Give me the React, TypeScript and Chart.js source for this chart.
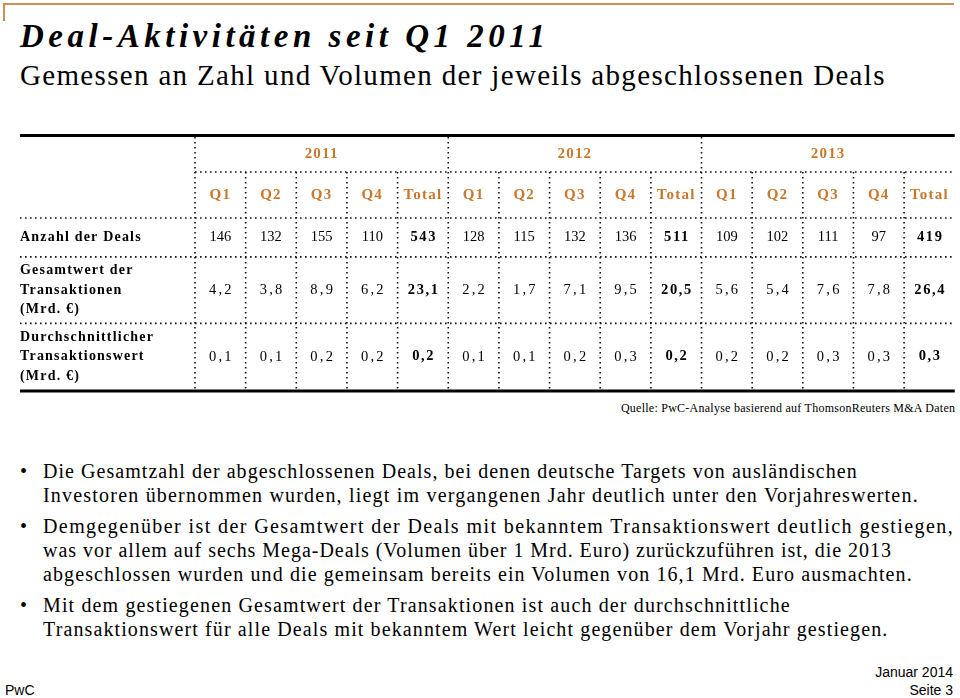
import React, { useEffect, useRef } from 'react';
import { Chart, registerables } from 'chart.js';

Chart.register(...registerables);

// ---------- data ----------
const YEARS = ['2011', '2012', '2013'];
const COLUMN_LABELS = ['Q1', 'Q2', 'Q3', 'Q4', 'Total', 'Q1', 'Q2', 'Q3', 'Q4', 'Total', 'Q1', 'Q2', 'Q3', 'Q4', 'Total'];
const ROW_LABELS = [
  ['Anzahl der Deals'],
  ['Gesamtwert der', 'Transaktionen', '(Mrd. €)'],
  ['Durchschnittlicher', 'Transaktionswert', '(Mrd. €)'],
];
const DEALS_COUNT = [146, 132, 155, 110, 543, 128, 115, 132, 136, 511, 109, 102, 111, 97, 419];
const TOTAL_VALUE = [4.2, 3.8, 8.9, 6.2, 23.1, 2.2, 1.7, 7.1, 9.5, 20.5, 5.6, 5.4, 7.6, 7.8, 26.4];
const AVG_VALUE = [0.1, 0.1, 0.2, 0.2, 0.2, 0.1, 0.1, 0.2, 0.3, 0.2, 0.2, 0.2, 0.3, 0.3, 0.3];
const ROW_VALUES = [DEALS_COUNT, TOTAL_VALUE, AVG_VALUE];
const ROW_DECIMALS = [0, 1, 1];

const TITLE = 'Deal-Aktivitäten seit Q1 2011';
const SUBTITLE = 'Gemessen an Zahl und Volumen der jeweils abgeschlossenen Deals';
const SOURCE = 'Quelle: PwC-Analyse basierend auf ThomsonReuters M&A Daten';
const BULLETS = [
  [
    'Die Gesamtzahl der abgeschlossenen Deals, bei denen deutsche Targets von ausländischen',
    'Investoren übernommen wurden, liegt im vergangenen Jahr deutlich unter den Vorjahreswerten.',
  ],
  [
    'Demgegenüber ist der Gesamtwert der Deals mit bekanntem Transaktionswert deutlich gestiegen,',
    'was vor allem auf sechs Mega-Deals (Volumen über 1 Mrd. Euro) zurückzuführen ist, die 2013',
    'abgeschlossen wurden und die gemeinsam bereits ein Volumen von 16,1 Mrd. Euro ausmachten.',
  ],
  [
    'Mit dem gestiegenen Gesamtwert der Transaktionen ist auch der durchschnittliche',
    'Transaktionswert für alle Deals mit bekanntem Wert leicht gegenüber dem Vorjahr gestiegen.',
  ],
];
const FOOTER_LEFT = 'PwC';
const FOOTER_DATE = 'Januar 2014';
const FOOTER_PAGE = 'Seite 3';

// ---------- styles / layout ----------
const SERIF = '"Liberation Serif", "Times New Roman", serif';
const SANS = '"Liberation Sans", Arial, sans-serif';
const ORANGE = '#C8782C';
const TOP_RULE = '#CC9152';
const BULLET_WIDTHS = [[814, 875], [910, 848, 869], [747, 845]];

// row geometry derived from label line count
const ROW_UNITS = ROW_LABELS.map((l) => l.length + 1.8);
const ROW_BOUNDS: number[] = [0];
ROW_UNITS.forEach((u, i) => ROW_BOUNDS.push(ROW_BOUNDS[i] + u));
const ROW_CENTERS = ROW_UNITS.map((u, i) => ROW_BOUNDS[i] + u / 2);
const ROW_MAX = ROW_BOUNDS[ROW_BOUNDS.length - 1];

const fmt = (v: number, d: number) => v.toFixed(d).replace('.', ',');

let mctx: CanvasRenderingContext2D | null = null;
function measure(text: string, font: string) {
  if (!mctx) mctx = document.createElement('canvas').getContext('2d');
  mctx!.font = font;
  return mctx!.measureText(text).width;
}

type LineProps = {
  text: string; x: number; y: number; width?: number; size: number;
  weight?: string; italic?: boolean; family?: string; align?: 'left' | 'right'; color?: string;
};
function Line({ text, x, y, width, size, weight = 'normal', italic = false, family = SERIF, align = 'left', color = '#000' }: LineProps) {
  const font = `${italic ? 'italic' : 'normal'} ${weight} ${size}px ${family}`;
  const n = Array.from(text).length;
  const ls = width ? (width - measure(text, font)) / Math.max(1, n - 1) : 0;
  const css: React.CSSProperties = {
    position: 'absolute',
    top: y - size / 2,
    font,
    lineHeight: `${size}px`,
    letterSpacing: `${ls}px`,
    whiteSpace: 'pre',
    color,
    margin: 0,
  };
  if (align === 'left') css.left = x;
  else css.right = 960 - x - ls;
  return <div style={css}>{text}</div>;
}

// ---------- chart plugins ----------
const spacingPlugin = {
  id: 'spacing',
  beforeDraw(chart: any) { chart.ctx.letterSpacing = '1.2px'; },
  afterDraw(chart: any) { chart.ctx.letterSpacing = '0px'; },
};

const gridPlugin = {
  id: 'tableGrid',
  beforeDatasetsDraw(chart: any) {
    const { ctx, chartArea } = chart;
    const xs = chart.scales.x;
    const ys = chart.scales.y;
    const yr = chart.scales.year;
    const tableLeft = ys.left;
    ctx.save();
    ctx.strokeStyle = '#111';
    ctx.lineWidth = 1.6;
    ctx.setLineDash([1.6, 3.4]);
    const seg = (x1: number, y1: number, x2: number, y2: number) => {
      ctx.beginPath(); ctx.moveTo(x1, y1); ctx.lineTo(x2, y2); ctx.stroke();
    };
    const n = COLUMN_LABELS.length;
    for (let i = 0; i < n; i++) {
      const xb = i === 0 ? chartArea.left : (xs.getPixelForValue(i - 1) + xs.getPixelForValue(i)) / 2;
      const top = i % 5 === 0 ? yr.top : xs.top;
      seg(xb, top, xb, chartArea.bottom);
    }
    seg(chartArea.left, xs.top, chartArea.right, xs.top);
    seg(tableLeft, chartArea.top, chartArea.right, chartArea.top);
    for (let r = 1; r < ROW_BOUNDS.length - 1; r++) {
      const yb = ys.getPixelForValue(ROW_BOUNDS[r]);
      seg(tableLeft, yb, chartArea.right, yb);
    }
    ctx.setLineDash([]);
    ctx.strokeStyle = '#000';
    ctx.lineWidth = 3;
    seg(tableLeft, yr.top - 1.5, chartArea.right, yr.top - 1.5);
    seg(tableLeft, chartArea.bottom + 1, chartArea.right, chartArea.bottom + 1);
    ctx.restore();
  },
};

const cellPlugin = {
  id: 'cellText',
  afterDatasetsDraw(chart: any) {
    const ctx = chart.ctx;
    chart.data.datasets.forEach((ds: any, r: number) => {
      const meta = chart.getDatasetMeta(r);
      meta.data.forEach((el: any, i: number) => {
        const total = COLUMN_LABELS[i] === 'Total';
        const text = fmt(ds.data[i].v, ROW_DECIMALS[r]);
        const ls = total ? 1.6 : ROW_DECIMALS[r] ? 2.2 : 0;
        ctx.save();
        ctx.font = `${total ? 'bold ' : ''}14.5px ${SERIF}`;
        ctx.letterSpacing = `${ls}px`;
        ctx.textAlign = 'center';
        ctx.textBaseline = 'middle';
        ctx.fillStyle = '#000';
        ctx.fillText(text, el.x + ls / 2, el.y);
        ctx.restore();
      });
    });
  },
};

function TableChart() {
  const ref = useRef<HTMLCanvasElement>(null);
  useEffect(() => {
    const headerFont = { family: SERIF, size: 15, weight: 'bold' as const };
    const noGrid = { display: false, drawTicks: false };
    const chart = new Chart(ref.current!, {
      type: 'scatter',
      data: {
        labels: COLUMN_LABELS,
        datasets: ROW_VALUES.map((vals, r) => ({
          label: ROW_LABELS[r].join(' '),
          data: vals.map((v, i) => ({ x: i, y: ROW_CENTERS[r], v })),
          pointRadius: 0,
          pointHoverRadius: 0,
        })) as any,
      },
      options: {
        animation: false,
        responsive: false,
        devicePixelRatio: 1,
        events: [],
        layout: { padding: { left: 20, right: 5, top: 7, bottom: 10 } },
        plugins: { legend: { display: false }, tooltip: { enabled: false } },
        scales: {
          x: {
            type: 'category',
            labels: COLUMN_LABELS,
            position: 'top',
            offset: true,
            grid: noGrid,
            border: { display: false },
            ticks: { color: ORANGE, font: headerFont, padding: 14, autoSkip: false, maxRotation: 0 },
            afterFit: (s: any) => { s.height = 46; },
          },
          year: {
            type: 'category',
            labels: YEARS,
            position: 'top',
            display: true,
            offset: true,
            weight: 1,
            grid: noGrid,
            border: { display: false },
            ticks: { color: ORANGE, font: headerFont, padding: 9, autoSkip: false, maxRotation: 0 },
            afterFit: (s: any) => { s.height = 35; },
          },
          y: {
            type: 'linear',
            position: 'left',
            reverse: true,
            min: 0,
            max: ROW_MAX,
            bounds: 'data',
            grid: noGrid,
            border: { display: false },
            ticks: {
              crossAlign: 'far',
              color: '#000',
              padding: 0,
              autoSkip: false,
              font: { family: SERIF, size: 14, weight: 'bold', lineHeight: 1.4 },
              callback: (_v: any, i: number) => ROW_LABELS[i],
            },
            afterBuildTicks: (s: any) => { s.ticks = ROW_CENTERS.map((v) => ({ value: v })); },
            afterFit: (s: any) => { s.width = 175; },
          },
        } as any,
      },
      plugins: [spacingPlugin, gridPlugin, cellPlugin],
    });
    return () => chart.destroy();
  }, []);
  return (
    <canvas
      ref={ref}
      width={960}
      height={270}
      style={{ position: 'absolute', left: 0, top: 130, width: 960, height: 270 }}
    />
  );
}

export default function App() {
  const lineH = 24;
  const paraGap = 7;
  let y = 471;
  const bulletNodes: React.ReactNode[] = [];
  BULLETS.forEach((para, p) => {
    para.forEach((t, l) => {
      if (l === 0) bulletNodes.push(<Line key={`b${p}`} text="•" x={20} y={y} size={20} />);
      bulletNodes.push(<Line key={`l${p}-${l}`} text={t} x={43} y={y} size={20} width={BULLET_WIDTHS[p][l]} />);
      y += lineH;
    });
    y += paraGap;
  });

  return (
    <div style={{ position: 'absolute', left: 0, top: 0, width: 960, height: 698, overflow: 'hidden', background: '#fff' }}>
      <div style={{ position: 'absolute', left: 3, top: 3, width: 951, height: 2, background: TOP_RULE }} />
      <div style={{ position: 'absolute', left: 3, top: 3, width: 2, height: 18, background: TOP_RULE }} />
      <Line text={TITLE} x={20} y={36} size={33} weight="bold" italic width={525} />
      <Line text={SUBTITLE} x={20} y={75} size={29} width={865} />
      <TableChart />
      <Line text={SOURCE} x={955} y={408} size={12} width={335} align="right" />
      {bulletNodes}
      <Line text={FOOTER_LEFT} x={5} y={690} size={14} family={SANS} />
      <Line text={FOOTER_DATE} x={953} y={672} size={14} family={SANS} align="right" />
      <Line text={FOOTER_PAGE} x={953} y={690} size={14} family={SANS} align="right" />
    </div>
  );
}
